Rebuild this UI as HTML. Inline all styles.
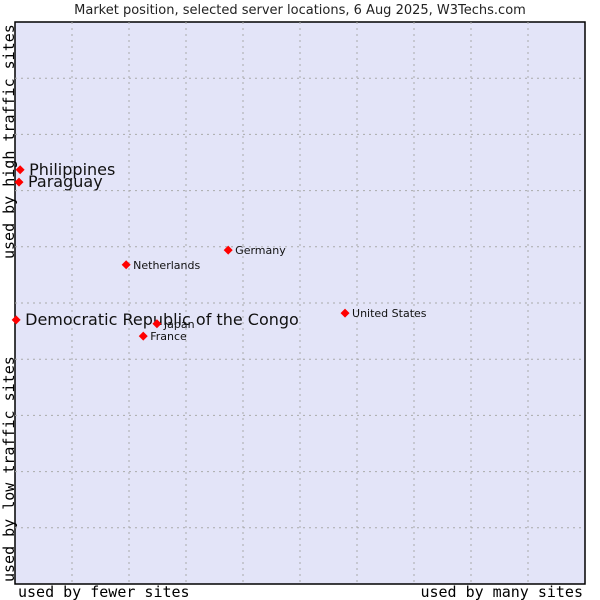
<!DOCTYPE html>
<html><head><meta charset="utf-8"><style>
body{margin:0;background:#fff;width:600px;height:600px;overflow:hidden}
svg{display:block;font-family:"DejaVu Sans","Liberation Sans",sans-serif}
</style></head><body>
<svg id="c" width="600" height="600">
<text x="300" y="14" text-anchor="middle" font-size="13" fill="#222">Market position, selected server locations, 6 Aug 2025, W3Techs.com</text>
<rect x="15" y="22" width="570" height="562" fill="#e3e4f8" stroke="#000" stroke-width="1.5"/>
<g id="grid"></g>
<g id="pts"></g>
<text x="18" y="597" font-family="DejaVu Sans Mono,monospace" font-size="15">used by fewer sites</text>
<text x="583" y="597" text-anchor="end" font-family="DejaVu Sans Mono,monospace" font-size="15">used by many sites</text>
<text transform="translate(14,582) rotate(-90)" font-family="DejaVu Sans Mono,monospace" font-size="15">used by low traffic sites</text>
<text transform="translate(14,259) rotate(-90)" font-family="DejaVu Sans Mono,monospace" font-size="15">used by high traffic sites</text>
</svg>
<script>
const names=["Philippines","Paraguay","Democratic Republic of the Congo","Netherlands","Germany","United States","Japan","France"];
const xs=[0.9,0.7,0.2,19.5,37.4,57.9,24.9,22.5];
const ys=[73.7,71.5,47,56.8,59.4,48.2,46.3,44.1];
const big=[1,1,1,0,0,0,0,0];
const L=15,T=22,W=570,H=562;
const sx=v=>L+v/100*W, sy=v=>T+H-v/100*H;
const NS="http://www.w3.org/2000/svg";
const g=document.getElementById('grid');
for(let i=1;i<10;i++){
 const a=document.createElementNS(NS,'line');
 a.setAttribute('x1',sx(i*10));a.setAttribute('x2',sx(i*10));a.setAttribute('y1',T);a.setAttribute('y2',T+H);
 a.setAttribute('stroke','#aaa');a.setAttribute('stroke-dasharray','2,4');
 
 
 g.appendChild(a);
 const b=document.createElementNS(NS,'line');
 b.setAttribute('y1',sy(i*10));b.setAttribute('y2',sy(i*10));b.setAttribute('x1',L);b.setAttribute('x2',L+W);
 b.setAttribute('stroke','#aaa');b.setAttribute('stroke-dasharray','2,4');
 
 
 g.appendChild(b);
}
const p=document.getElementById('pts');
names.forEach((n,i)=>{
 const x=sx(xs[i]),y=sy(ys[i]);
 const d=document.createElementNS(NS,'path');
 d.setAttribute('d',`M${x-4.5},${y} L${x},${y-4.5} L${x+4.5},${y} L${x},${y+4.5}Z`);
 d.setAttribute('fill','#f00');
 
 
 p.appendChild(d);
 const t=document.createElementNS(NS,'text');
 t.setAttribute('x',x+(big[i]?9:7));t.setAttribute('y',y+(big[i]?5:4));
 t.setAttribute('font-size',big[i]?16:11);
 t.setAttribute('fill','#111');
 t.textContent=n;
 
 
 p.appendChild(t);
});
</script>
</body></html>
